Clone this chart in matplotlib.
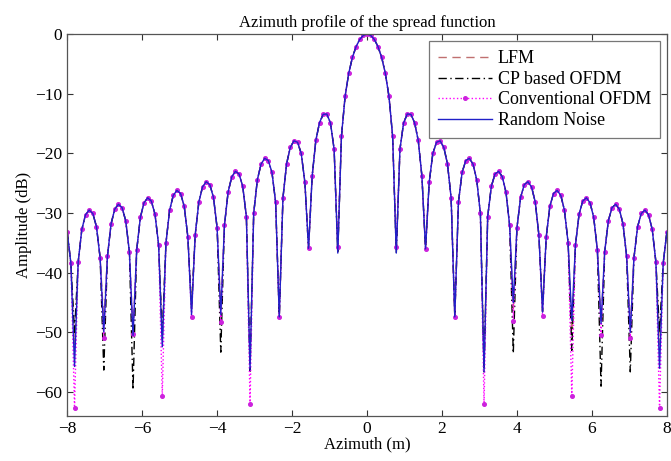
import numpy as np
import matplotlib
matplotlib.use("Agg")
import matplotlib.pyplot as plt

# ---- data ----
azimuth_pos_m = [0.0, 0.0975, 0.195, 0.2925, 0.39, 0.4875, 0.585, 0.6825, 0.78,
                 0.8775, 0.975, 1.0725, 1.17, 1.2675, 1.365, 1.4625, 1.56,
                 1.6575, 1.755, 1.8525, 1.95, 2.0475, 2.145, 2.2425, 2.34,
                 2.4375, 2.535, 2.6325, 2.73, 2.8275, 2.925, 3.0225, 3.12,
                 3.2175, 3.315, 3.4125, 3.51, 3.6075, 3.705, 3.8025, 3.9,
                 3.9975, 4.095, 4.1925, 4.29, 4.3875, 4.485, 4.5825, 4.68,
                 4.7775, 4.875, 4.9725, 5.07, 5.1675, 5.265, 5.3625, 5.46,
                 5.5575, 5.655, 5.7525, 5.85, 5.9475, 6.045, 6.1425, 6.24,
                 6.3375, 6.435, 6.5325, 6.63, 6.7275, 6.825, 6.9225, 7.02,
                 7.1175, 7.215, 7.3125, 7.41, 7.5075, 7.605, 7.7025, 7.8,
                 7.8975, 7.995]

random_noise_db = [
    -33.17, -38.39, -55.7, -38.18, -32.73, -30.30, -29.50, -30.07, -32.28, -37.49,
    -49.9, -37.25, -31.79, -29.35, -28.53, -29.09, -31.28, -36.48,
    -50.5, -36.21, -30.74, -28.28, -27.44, -27.99, -30.16, -35.34,
    -52.4, -35.03, -29.54, -27.05, -26.20, -26.72, -28.87, -34.03,
    -47.0, -33.67, -28.15, -25.63, -24.75, -25.24, -27.36, -32.48,
    -47.0, -32.05, -26.49, -23.93, -23.01, -23.45, -25.52, -30.59,
    -56.3, -30.05, -24.43, -21.82, -20.82, -21.20, -23.19, -28.18,
    -47.4, -27.46, -21.74, -19.01, -17.90, -18.14, -20.00, -24.83,
    -35.9, -23.75, -17.81, -14.85, -13.46, -13.40, -14.89, -19.31,
    -36.7, -17.13, -10.45, -6.55, -3.92, -2.11, -0.91, -0.22,
    0.00,
    -0.22, -0.91, -2.11, -3.92, -6.55, -10.45, -17.13, -36.7,
    -19.31, -14.89, -13.40, -13.46, -14.85, -17.81, -23.75, -36.0,
    -24.83, -20.00, -18.14, -17.90, -19.01, -21.74, -27.46, -47.4,
    -28.18, -23.19, -21.20, -20.82, -21.82, -24.43, -30.05, -56.6,
    -30.59, -25.52, -23.45, -23.01, -23.93, -26.49, -32.05, -45.0,
    -32.48, -27.36, -25.24, -24.75, -25.63, -28.15, -33.67, -46.6,
    -34.03, -28.87, -26.72, -26.20, -27.05, -29.54, -35.03, -48.0,
    -35.34, -30.16, -27.99, -27.44, -28.28, -30.74, -36.21, -48.5,
    -36.48, -31.28, -29.09, -28.53, -29.35, -31.79, -37.25, -50.0,
    -37.49, -32.28, -30.07, -29.50, -30.30, -32.73, -38.18, -56.0,
    -38.39, -33.17]

null_azimuth_m = [-7.8, -7.02, -6.24, -5.46, -4.68, -3.9, -3.12, -2.34, -1.56, -0.78,
                  0.78, 1.56, 2.34, 3.12, 3.9, 4.68, 5.46, 6.24, 7.02, 7.8]
lfm_null_db = [-52.0, -48.0, -50.0, -50.0, -46.0, -46.0, -55.0, -47.4, -36.0, -36.5,
               -36.5, -36.0, -47.4, -55.0, -46.0, -46.0, -50.0, -48.0, -49.0, -52.0]
cp_null_db = [-50.0, -56.3, -59.6, -51.0, -46.0, -53.3, -56.5, -47.4, -36.0, -36.7,
              -36.7, -36.0, -47.4, -56.6, -53.5, -46.5, -53.0, -59.0, -56.6, -50.0]
conv_null_db = [-62.6, -51.0, -50.3, -60.6, -47.4, -48.2, -62.0, -47.4, -35.9, -35.6,
                -35.6, -36.0, -47.4, -62.0, -48.0, -47.3, -60.6, -50.4, -51.0, -62.7]

series_names = ["LFM", "CP based OFDM", "Conventional OFDM", "Random Noise"]
x_ticks = [-8, -6, -4, -2, 0, 2, 4, 6, 8]
y_ticks = [-60, -50, -40, -30, -20, -10, 0]

# ---- build series ----
azimuth = np.array([-a for a in reversed(azimuth_pos_m[1:])] + azimuth_pos_m)
base = np.array(random_noise_db)
null_idx = [int(np.argmin(np.abs(azimuth - a))) for a in null_azimuth_m]


def with_nulls(vals):
    y = base.copy()
    for i, v in zip(null_idx, vals):
        y[i] = v
    return y


lfm = with_nulls(lfm_null_db)
cp = with_nulls(cp_null_db)
conv = with_nulls(conv_null_db)

plt.rcParams['font.family'] = ['Liberation Serif', 'DejaVu Serif']
plt.rcParams['mathtext.fontset'] = 'stix'

fig = plt.figure(figsize=(6.71, 4.61), dpi=100)
ax = fig.add_axes([0.0999, 0.0976, 0.8942, 0.8286])

ax.plot(azimuth, lfm, color='#c07070', linestyle=(0, (6, 4)), linewidth=1.0,
        label=series_names[0])
ax.plot(azimuth, cp, color='black', linestyle=(0, (6, 2.5, 1, 2.5)), linewidth=1.0,
        label=series_names[1])
ax.plot(azimuth, conv, color='#ff00ff', linestyle=':', linewidth=1.0,
        marker='o', markersize=2.6, markerfacecolor='#cc22dd', markeredgecolor='#cc22dd',
        label=series_names[2])
ax.plot(azimuth, base, color='#2020c8', linestyle='-', linewidth=1.0,
        label=series_names[3])

ax.set_xlim(-8, 8)
ax.set_ylim(-64, 0)
ax.set_xticks(x_ticks)
ax.set_yticks(y_ticks)
ax.tick_params(direction='in', top=True, right=True, labelsize=12.5, length=4,
               width=0.8, colors='#333333', labelcolor='black')
for s in ax.spines.values():
    s.set_color('#555555')
    s.set_linewidth(0.9)

ax.set_title("Azimuth profile of the spread function", fontsize=12, pad=5)
ax.set_xlabel("Azimuth (m)", fontsize=12, labelpad=0)
ax.set_ylabel("Amplitude (dB)", fontsize=12, labelpad=2)

leg = ax.legend(loc='upper right', fontsize=13, frameon=True, fancybox=False,
                borderpad=0.5, labelspacing=0.2, handlelength=3.0,
                handletextpad=0.3, borderaxespad=0.4)
leg.get_frame().set_edgecolor('#555555')
leg.get_frame().set_linewidth(0.9)

fig.savefig("out.png", dpi=100)
